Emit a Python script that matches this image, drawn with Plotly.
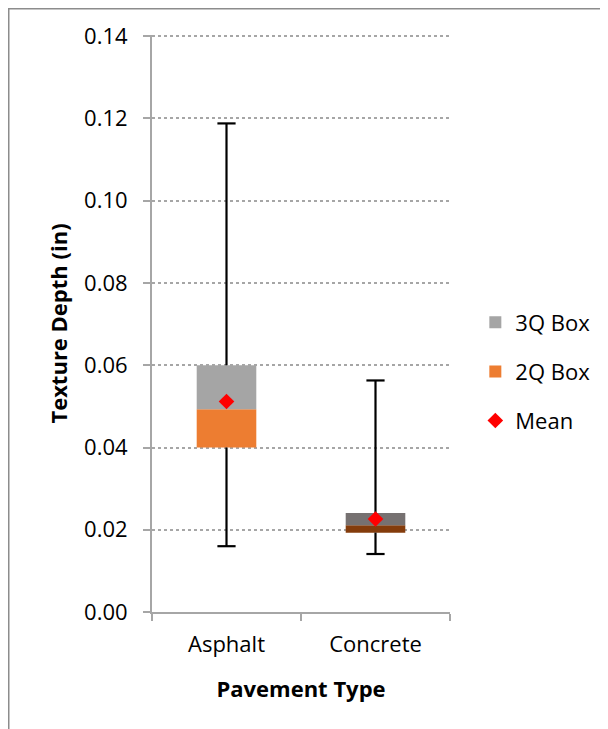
import plotly.graph_objects as go

# box plot values (in)
categories = ["Asphalt", "Concrete"]
q1 = [0.0400, 0.0193]
median = [0.0493, 0.0211]
q3 = [0.0600, 0.0241]
minimum = [0.0160, 0.0141]
maximum = [0.1188, 0.0563]
mean = [0.0512, 0.0226]

y_ticks = [0.00, 0.02, 0.04, 0.06, 0.08, 0.10, 0.12, 0.14]

q2_colors = ["#ED7D31", "#843C0C"]
q3_colors = ["#A5A5A5", "#767171"]

font_name = "Open Sans"
fsize = 22

fig = go.Figure()

fig.add_trace(go.Bar(
    x=categories,
    y=[m - a for m, a in zip(median, q1)],
    base=q1,
    width=0.4,
    marker=dict(color=q2_colors, line=dict(width=0)),
    name="2Q Box",
    legendrank=2,
    legendgroup="b",
))
fig.add_trace(go.Bar(
    x=categories,
    y=[c - m for c, m in zip(q3, median)],
    base=median,
    width=0.4,
    marker=dict(color=q3_colors, line=dict(width=0)),
    name="3Q Box",
    legendrank=1,
    legendgroup="a",
))

# whiskers: from box top to max, box bottom to min
wx, wy = [], []
for c, lo, b, t, hi in zip(categories, minimum, q1, q3, maximum):
    wx += [c, c, None, c, c, None]
    wy += [t, hi, None, b, lo, None]
fig.add_trace(go.Scatter(
    x=wx, y=wy, mode="lines",
    line=dict(color="black", width=2.2),
    showlegend=False, hoverinfo="skip",
))
fig.add_trace(go.Scatter(
    x=categories + categories,
    y=maximum + minimum,
    mode="markers",
    marker=dict(symbol="line-ew", size=13, line=dict(color="black", width=2.2)),
    showlegend=False, hoverinfo="skip",
))

fig.add_trace(go.Scatter(
    x=categories,
    y=mean,
    mode="markers",
    marker=dict(symbol="diamond", size=12, color="#FF0000"),
    name="Mean",
    legendrank=3,
    legendgroup="c",
))

axis_grey = "#A6A6A6"

fig.update_layout(
    width=600,
    height=721,
    margin=dict(l=144, r=158, t=27, b=117),
    paper_bgcolor="white",
    plot_bgcolor="white",
    barmode="overlay",
    font=dict(family=font_name, size=fsize, color="black"),
    legend=dict(
        x=1.085, y=0.538, xanchor="left", yanchor="top",
        traceorder="grouped", tracegroupgap=17.5,
        font=dict(size=fsize),
    ),
    xaxis=dict(
        showline=True, linecolor=axis_grey, linewidth=2,
        ticks="outside", tickson="boundaries", ticklen=7,
        tickwidth=2, tickcolor=axis_grey,
        ticklabelstandoff=12,
        title=dict(text="<b>Pavement Type</b>", font=dict(size=fsize), standoff=24),
        showgrid=False,
    ),
    yaxis=dict(
        # a hair above 0.14 so the top gridline is not clipped
        range=[0, 0.1403],
        tickvals=y_ticks,
        tickformat=".2f",
        showline=True, linecolor=axis_grey, linewidth=2,
        ticks="outside", ticklen=7, tickwidth=2, tickcolor=axis_grey,
        ticklabelstandoff=11,
        showgrid=True, gridcolor="#A6A6A6", gridwidth=1.5, griddash="dot",
        zeroline=False,
        title=dict(text="<b>Texture Depth (in)</b>", font=dict(size=fsize), standoff=10),
    ),
    shapes=[dict(
        type="rect", xref="paper", yref="paper",
        x0=-0.4807, x1=1.7, y0=-0.3, y1=1.0455,
        line=dict(color="#8C8C8C", width=1.5),
        fillcolor="rgba(0,0,0,0)",
        layer="below",
    )],
)

fig.write_html("out.html")
